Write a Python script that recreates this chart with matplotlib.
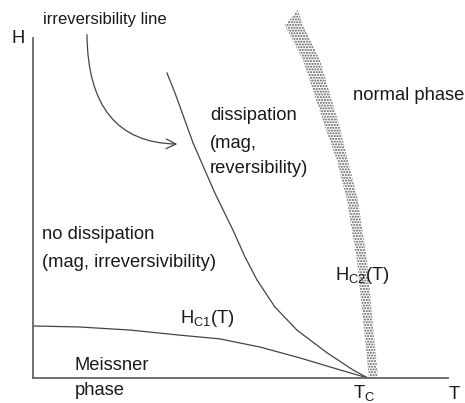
import matplotlib.pyplot as plt

plt.rcParams['font.family'] = ['Liberation Sans', 'DejaVu Sans']
plt.rcParams['mathtext.default'] = 'regular'
plt.rcParams['hatch.linewidth'] = 1.0

# reduced temperature T/Tc and field H (arbitrary units)
irr_T = [0.400, 0.424, 0.478, 0.543, 0.597, 0.633, 0.669, 0.722, 0.788, 0.878, 0.955, 1.0]
irr_H = [0.897, 0.838, 0.691, 0.544, 0.435, 0.356, 0.288, 0.209, 0.141, 0.074, 0.024, 0.0]

hc1_T = [0.0, 0.140, 0.290, 0.439, 0.558, 0.678, 0.797, 0.916, 1.0]
hc1_H = [0.153, 0.150, 0.141, 0.126, 0.115, 0.091, 0.059, 0.024, 0.0]

# Hc2 drawn as a broad band (left / right edges share the same H values)
hc2_H = [0.0, 0.347, 0.524, 0.641, 0.738, 0.935, 1.038]
hc2_left = [1.003, 0.967, 0.937, 0.907, 0.872, 0.806, 0.752]
hc2_right = [1.030, 0.997, 0.970, 0.940, 0.916, 0.857, 0.806]
hc2_tip = (0.791, 1.082)

line_col = '#444444'
txt_col = '#1a1a1a'
fs = 13.2

fig = plt.figure(figsize=(4.65, 4.03), dpi=100)
ax = fig.add_axes([33 / 465, 25 / 403, 415 / 465, 340 / 403])
ax.set_xlim(0, 1.239)
ax.set_ylim(0, 1.0)
for s in ['top', 'right']:
    ax.spines[s].set_visible(False)
for s in ['left', 'bottom']:
    ax.spines[s].set_color('#666666')
    ax.spines[s].set_linewidth(1.3)
ax.set_xticks([])
ax.set_yticks([])

ax.plot(irr_T, irr_H, color=line_col, lw=0.9, clip_on=False)
ax.plot(hc1_T, hc1_H, color=line_col, lw=0.9, clip_on=False)

band_T = hc2_left + [hc2_tip[0]] + hc2_right[::-1]
band_H = hc2_H + [hc2_tip[1]] + hc2_H[::-1]
ax.fill(band_T, band_H, facecolor='white', edgecolor='#555555', hatch='......',
        linewidth=0, clip_on=False)

# curved arrow pointing at the irreversibility line
ax.annotate('', xy=(0.439, 0.688), xytext=(0.161, 1.018),
            arrowprops=dict(arrowstyle='->,head_length=0.7,head_width=0.35',
                            color=line_col, lw=0.9,
                            connectionstyle='angle3,angleA=90,angleB=0'),
            annotation_clip=False)

def label(x, y, s, size=fs):
    ax.text(x, y, s, fontsize=size, color=txt_col, va='baseline', ha='left', clip_on=False)

label(0.030, 1.041, 'irreversibility line', size=12.0)
label(-0.063, 0.985, 'H')
label(0.528, 0.759, 'dissipation')
label(0.528, 0.676, '(mag,')
label(0.528, 0.603, 'reversibility)')
label(0.955, 0.818, 'normal phase')
label(0.027, 0.409, 'no dissipation')
label(0.027, 0.326, '(mag, irreversivibility)')
label(0.439, 0.162, r'H$_{C1}$(T)')
label(0.901, 0.288, r'H$_{C2}$(T)')
label(0.125, 0.024, 'Meissner')
label(0.125, -0.050, 'phase')
label(0.955, -0.060, r'T$_{C}$')
label(1.242, -0.062, 'T')

fig.savefig('out.png', dpi=100)
